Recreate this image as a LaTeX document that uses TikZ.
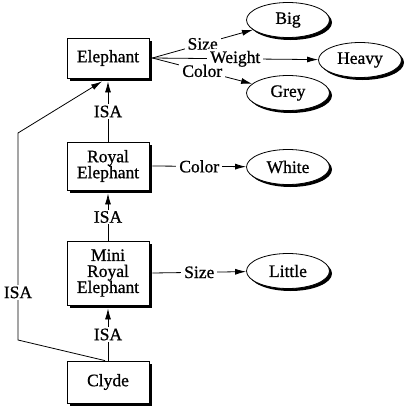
\documentclass[tikz,border=0pt]{standalone}
\usepackage{fontspec}
\setmainfont{Liberation Serif}[FakeBold=0.8]
\usetikzlibrary{arrows.meta,shapes.geometric,shadows}
\tikzset{
  box/.style={draw, fill=white, line width=0.8pt, minimum width=82pt, align=center,
    drop shadow={shadow xshift=3pt, shadow yshift=-3pt, fill=black, opacity=1}},
  val/.style={ellipse, draw, fill=white, line width=0.8pt, minimum width=83pt, minimum height=35pt,
    drop shadow={shadow xshift=2.5pt, shadow yshift=-2.5pt, fill=black, opacity=1}},
  arc/.style={line width=0.8pt, -{Latex[length=11pt,width=6pt]}},
  lbl/.style={fill=white, inner xsep=3pt, inner ysep=1.5pt}
}
\begin{document}
\begin{tikzpicture}[x=1pt, y=-1pt, font=\fontsize{17.5}{19}\selectfont]
  \useasboundingbox (0,0) rectangle (406,408);
  \node[box, minimum height=40pt] (v0) at (108, 58) {Elephant};
  \node[box, minimum height=48pt] (v1) at (108, 166) {Royal\\[-3pt]Elephant};
  \node[box, minimum height=64pt] (v2) at (108, 273) {Mini\\[-3pt]Royal\\[-3pt]Elephant};
  \node[box, minimum height=42pt] (v3) at (108, 382) {Clyde};
  \node[val] (big) at (288, 20) {Big};
  \node[val] (heavy) at (360, 60) {Heavy};
  \node[val] (grey) at (288, 93) {Grey};
  \node[val] (white) at (288, 167) {White};
  \node[val] (little) at (288, 271) {Little};
  \coordinate (c1) at (18, 340);
  \coordinate (c2) at (18, 133);
  \draw[arc] ([xshift=3pt]v0.east) -- node[lbl] {Size} (big);
  \draw[arc] ([xshift=3pt]v0.east) -- node[lbl] {Weight} (heavy);
  \draw[arc] ([xshift=3pt]v0.east) -- node[lbl] {Color} (grey);
  \draw[arc] ([xshift=3pt]v1.east) -- node[lbl] {Color} (white);
  \draw[arc] ([xshift=3pt]v2.east) -- node[lbl] {Size} (little);
  \draw[arc] (v1.north) -- node[lbl] {ISA} ([yshift=-3pt]v0.south);
  \draw[arc] (v2.north) -- node[lbl] {ISA} ([yshift=-3pt]v1.south);
  \draw[arc] (v3.north) -- node[lbl] {ISA} ([yshift=-3pt]v2.south);
  \draw[arc] ([xshift=-3pt]v3.north) -- (c1) -- node[lbl, pos=0.23] {ISA} (c2)
    -- ([xshift=-6pt, yshift=-3pt]v0.south);
\end{tikzpicture}
\end{document}
